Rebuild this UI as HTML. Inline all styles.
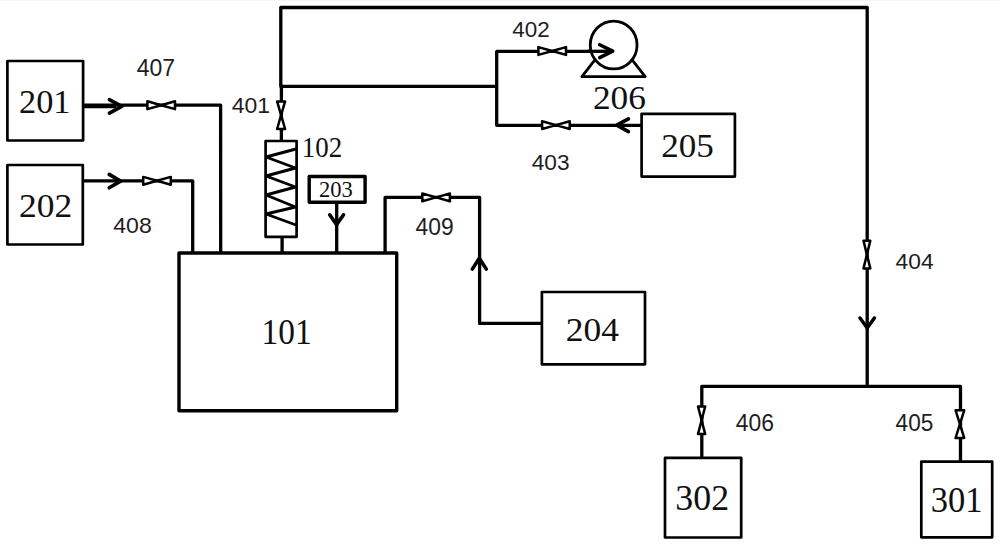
<!DOCTYPE html>
<html><head><meta charset="utf-8"><style>
html,body{margin:0;padding:0;background:#fff;}
svg{display:block;}
</style></head><body>
<svg width="1000" height="545" viewBox="0 0 1000 545">
<rect width="1000" height="545" fill="#fff"/>
<rect x="0" y="0" width="1000" height="1" fill="#f6f6f6"/>
<path d="M280.80 86.40 L280.80 7.50 L867.20 7.50 L867.20 386.30" fill="none" stroke="#000" stroke-width="3.30" stroke-linecap="butt" stroke-linejoin="round"/>
<path d="M281.40 84.80 L281.40 141.00" fill="none" stroke="#000" stroke-width="3.30" stroke-linecap="butt" stroke-linejoin="round"/>
<path d="M279.60 86.30 L496.70 86.30" fill="none" stroke="#000" stroke-width="3.30" stroke-linecap="butt" stroke-linejoin="round"/>
<path d="M590.00 51.40 L496.70 51.40 L496.70 125.30 L641.60 125.30" fill="none" stroke="#000" stroke-width="3.30" stroke-linecap="square" stroke-linejoin="round"/>
<path d="M701.80 457.80 L701.80 386.30 L960.50 386.40 L960.50 461.70" fill="none" stroke="#000" stroke-width="3.30" stroke-linecap="square" stroke-linejoin="round"/>
<path d="M83.40 105.80 L116.00 105.80" fill="none" stroke="#000" stroke-width="4.70" stroke-linecap="butt" stroke-linejoin="round"/>
<path d="M116.00 105.10 L220.60 105.10 L220.70 253.00" fill="none" stroke="#000" stroke-width="3.30" stroke-linecap="square" stroke-linejoin="round"/>
<path d="M83.00 180.90 L192.70 180.90 L192.70 253.00" fill="none" stroke="#000" stroke-width="3.30" stroke-linecap="square" stroke-linejoin="round"/>
<path d="M282.10 236.80 L282.10 253.00" fill="none" stroke="#000" stroke-width="3.30" stroke-linecap="square" stroke-linejoin="round"/>
<path d="M336.70 202.30 L336.70 253.00" fill="none" stroke="#000" stroke-width="3.30" stroke-linecap="square" stroke-linejoin="round"/>
<path d="M385.10 253.00 L385.10 197.40 L479.60 197.40 L479.60 323.40 L542.00 323.40" fill="none" stroke="#000" stroke-width="3.30" stroke-linecap="square" stroke-linejoin="round"/>
<path d="M581.9 76.7 L645.2 76.7 L613.5 36.0 Z" fill="#fff" stroke="#000" stroke-width="2.8" stroke-linejoin="round"/>
<ellipse cx="613.65" cy="45.0" rx="23.4" ry="23.95" fill="#fff" stroke="#000" stroke-width="2.8"/>
<path d="M589.00 51.30 L611.00 51.30" fill="none" stroke="#000" stroke-width="3.30" stroke-linecap="square" stroke-linejoin="round"/>
<rect x="7.40" y="61.00" width="75.70" height="79.50" fill="#fff" stroke="#000" stroke-width="2.70" stroke-linejoin="round"/>
<rect x="7.40" y="165.00" width="75.40" height="79.50" fill="#fff" stroke="#000" stroke-width="2.70" stroke-linejoin="round"/>
<rect x="179.00" y="253.00" width="217.70" height="157.70" fill="#fff" stroke="#000" stroke-width="3.40" stroke-linejoin="round"/>
<rect x="265.60" y="141.00" width="31.00" height="95.80" fill="#fff" stroke="#000" stroke-width="2.70" stroke-linejoin="round"/>
<rect x="309.20" y="176.50" width="55.90" height="25.80" fill="#fff" stroke="#000" stroke-width="3.40" stroke-linejoin="round"/>
<rect x="541.90" y="292.00" width="103.10" height="72.30" fill="#fff" stroke="#000" stroke-width="2.70" stroke-linejoin="round"/>
<rect x="641.60" y="113.80" width="93.30" height="62.80" fill="#fff" stroke="#000" stroke-width="2.70" stroke-linejoin="round"/>
<rect x="665.00" y="457.80" width="76.20" height="79.70" fill="#fff" stroke="#000" stroke-width="2.70" stroke-linejoin="round"/>
<rect x="921.30" y="461.70" width="70.90" height="75.60" fill="#fff" stroke="#000" stroke-width="2.70" stroke-linejoin="round"/>
<path d="M296.00 149.00 L266.00 157.00 L295.50 168.00 L266.00 176.00 L295.50 187.00 L266.00 195.00 L295.50 207.00 L266.00 214.00 L296.00 225.00" fill="none" stroke="#000" stroke-width="2.90" stroke-linecap="butt" stroke-linejoin="bevel"/>
<path d="M147.40 101.30 L161.20 105.20 L147.40 109.10 Z M175.00 101.30 L161.20 105.20 L175.00 109.10 Z" fill="#fff" stroke="#000" stroke-width="2.50" stroke-linejoin="round"/>
<path d="M143.20 176.90 L157.00 180.80 L143.20 184.70 Z M170.80 176.90 L157.00 180.80 L170.80 184.70 Z" fill="#fff" stroke="#000" stroke-width="2.50" stroke-linejoin="round"/>
<path d="M422.30 193.50 L436.10 197.40 L422.30 201.30 Z M449.90 193.50 L436.10 197.40 L449.90 201.30 Z" fill="#fff" stroke="#000" stroke-width="2.50" stroke-linejoin="round"/>
<path d="M538.40 47.10 L552.20 51.00 L538.40 54.90 Z M566.00 47.10 L552.20 51.00 L566.00 54.90 Z" fill="#fff" stroke="#000" stroke-width="2.50" stroke-linejoin="round"/>
<path d="M542.10 121.20 L555.90 125.10 L542.10 129.00 Z M569.70 121.20 L555.90 125.10 L569.70 129.00 Z" fill="#fff" stroke="#000" stroke-width="2.50" stroke-linejoin="round"/>
<path d="M277.10 101.40 L281.10 115.20 L285.10 101.40 Z M277.10 129.00 L281.10 115.20 L285.10 129.00 Z" fill="#fff" stroke="#000" stroke-width="2.50" stroke-linejoin="round"/>
<path d="M863.50 240.80 L866.90 254.60 L870.30 240.80 Z M863.50 268.40 L866.90 254.60 L870.30 268.40 Z" fill="#fff" stroke="#000" stroke-width="2.50" stroke-linejoin="round"/>
<path d="M698.00 406.50 L701.60 420.30 L705.20 406.50 Z M698.00 434.10 L701.60 420.30 L705.20 434.10 Z" fill="#fff" stroke="#000" stroke-width="2.50" stroke-linejoin="round"/>
<path d="M955.60 410.30 L959.90 424.10 L964.20 410.30 Z M955.60 437.90 L959.90 424.10 L964.20 437.90 Z" fill="#fff" stroke="#000" stroke-width="2.50" stroke-linejoin="round"/>
<path d="M109.40 99.60 L121.80 106.40 L109.40 113.20" fill="none" stroke="#000" stroke-width="3.60" stroke-linecap="round" stroke-linejoin="round"/>
<path d="M109.20 174.40 L120.60 181.10 L109.20 187.80" fill="none" stroke="#000" stroke-width="3.60" stroke-linecap="round" stroke-linejoin="round"/>
<path d="M329.70 214.80 L336.60 224.60 L343.50 214.80" fill="none" stroke="#000" stroke-width="3.60" stroke-linecap="round" stroke-linejoin="round"/>
<path d="M472.30 269.10 L479.30 258.20 L486.30 269.10" fill="none" stroke="#000" stroke-width="3.60" stroke-linecap="round" stroke-linejoin="round"/>
<path d="M599.70 44.75 L612.70 51.20 L599.70 57.65" fill="none" stroke="#000" stroke-width="3.60" stroke-linecap="round" stroke-linejoin="round"/>
<path d="M628.40 118.80 L616.80 125.20 L628.40 131.60" fill="none" stroke="#000" stroke-width="3.60" stroke-linecap="round" stroke-linejoin="round"/>
<path d="M860.00 318.00 L867.20 328.00 L874.40 318.00" fill="none" stroke="#000" stroke-width="3.50" stroke-linecap="round" stroke-linejoin="round"/>
<text transform="translate(19.05 113.26) scale(1.0034 1)" style="font-family:&quot;Liberation Serif&quot;,serif;font-size:34.22px" fill="#111">201</text>
<text transform="translate(19.01 216.66) scale(1.0353 1)" style="font-family:&quot;Liberation Serif&quot;,serif;font-size:34.22px" fill="#111">202</text>
<text transform="translate(261.58 343.54) scale(0.9399 1)" style="font-family:&quot;Liberation Serif&quot;,serif;font-size:35.56px" fill="#111">101</text>
<text transform="translate(301.74 157.02) scale(0.9479 1)" style="font-family:&quot;Liberation Serif&quot;,serif;font-size:28.44px" fill="#111">102</text>
<text transform="translate(318.89 196.77) scale(0.9693 1)" style="font-family:&quot;Liberation Serif&quot;,serif;font-size:23.26px" fill="#111">203</text>
<text transform="translate(565.80 340.56) scale(1.0369 1)" style="font-family:&quot;Liberation Serif&quot;,serif;font-size:34.22px" fill="#111">204</text>
<text transform="translate(661.32 156.76) scale(1.0423 1)" style="font-family:&quot;Liberation Serif&quot;,serif;font-size:33.63px" fill="#111">205</text>
<text transform="translate(592.91 109.36) scale(1.0517 1)" style="font-family:&quot;Liberation Serif&quot;,serif;font-size:33.63px" fill="#111">206</text>
<text transform="translate(675.30 510.45) scale(1.0297 1)" style="font-family:&quot;Liberation Serif&quot;,serif;font-size:34.81px" fill="#111">302</text>
<text transform="translate(930.66 511.55) scale(0.9922 1)" style="font-family:&quot;Liberation Serif&quot;,serif;font-size:34.81px" fill="#111">301</text>
<text transform="translate(136.78 75.77) scale(0.9987 1)" style="font-family:&quot;Liberation Sans&quot;,sans-serif;font-size:23.04px" fill="#1e1e1e">407</text>
<text transform="translate(113.28 233.17) scale(1.0056 1)" style="font-family:&quot;Liberation Sans&quot;,sans-serif;font-size:22.90px" fill="#1e1e1e">408</text>
<text transform="translate(231.68 113.17) scale(1.0033 1)" style="font-family:&quot;Liberation Sans&quot;,sans-serif;font-size:22.90px" fill="#1e1e1e">401</text>
<text transform="translate(512.29 36.78) scale(0.9987 1)" style="font-family:&quot;Liberation Sans&quot;,sans-serif;font-size:22.47px" fill="#1e1e1e">402</text>
<text transform="translate(531.69 170.37) scale(1.0044 1)" style="font-family:&quot;Liberation Sans&quot;,sans-serif;font-size:22.61px" fill="#1e1e1e">403</text>
<text transform="translate(895.59 269.38) scale(1.0280 1)" style="font-family:&quot;Liberation Sans&quot;,sans-serif;font-size:22.19px" fill="#1e1e1e">404</text>
<text transform="translate(895.59 431.37) scale(0.9817 1)" style="font-family:&quot;Liberation Sans&quot;,sans-serif;font-size:23.04px" fill="#1e1e1e">405</text>
<text transform="translate(735.78 431.36) scale(0.9645 1)" style="font-family:&quot;Liberation Sans&quot;,sans-serif;font-size:23.75px" fill="#1e1e1e">406</text>
<text transform="translate(415.59 235.47) scale(0.9929 1)" style="font-family:&quot;Liberation Sans&quot;,sans-serif;font-size:23.04px" fill="#1e1e1e">409</text>
</svg>
</body></html>
